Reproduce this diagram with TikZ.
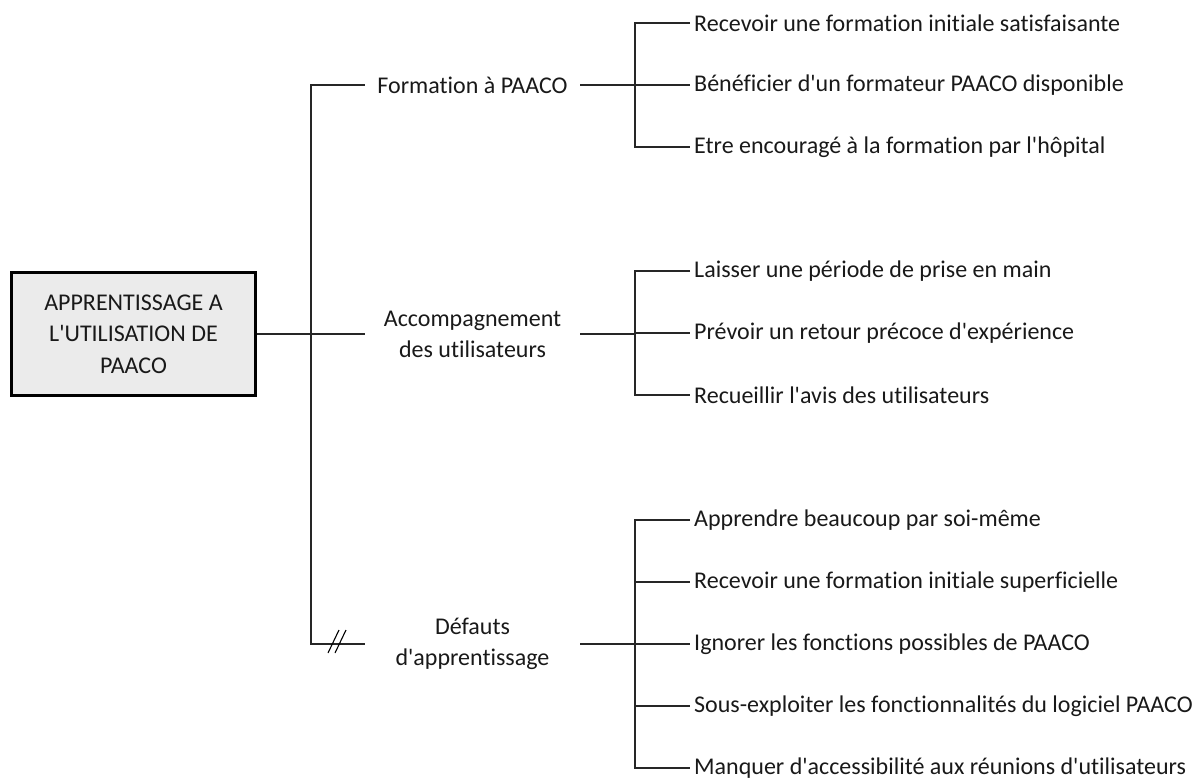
\documentclass[tikz,border=0pt]{standalone}
\usepackage{fontspec}
\setmainfont{Carlito}[Ligatures={TeXOff,CommonOff}]
\begin{document}
\begin{tikzpicture}[x=1pt,y=-1pt,
  conn/.style={line width=1.6pt,draw=black!85},
  rootbox/.style={draw=black,line width=3.5pt,fill=black!8,minimum width=244pt,minimum height=123pt,align=center,font=\fontsize{24}{31.5}\selectfont,text=black!90},
  midnode/.style={minimum width=215pt,inner sep=0pt,align=center,font=\fontsize{24}{31}\selectfont,text=black!90},
  leafnode/.style={anchor=west,inner sep=4pt,font=\fontsize{24}{28}\selectfont,text=black!90}]
\useasboundingbox (0,0) rectangle (1201,781);
\node[rootbox] (root) at (133.5,334) {APPRENTISSAGE A\\L'UTILISATION DE\\PAACO};
\coordinate (tA) at (311,85);
\coordinate (tC) at (311,644);
\coordinate (tB) at (311,334);
\node[midnode] (m1) at (472.5,85) {Formation à PAACO};
\node[midnode] (m2) at (472.5,334) {Accompagnement\\des utilisateurs};
\node[midnode] (m3) at (472.5,644) {Défauts\\d'apprentissage};
\coordinate (v1t) at (635,23);
\coordinate (v1b) at (635,147);
\coordinate (v2t) at (635,271);
\coordinate (v2b) at (635,395);
\coordinate (v3t) at (635,520);
\coordinate (v3b) at (635,768);
\node[leafnode] (l1) at (690,23) {Recevoir une formation initiale satisfaisante};
\node[leafnode] (l2) at (690,85) {Bénéficier d'un formateur PAACO disponible};
\node[leafnode] (l3) at (690,147) {Etre encouragé à la formation par l'hôpital};
\node[leafnode] (l4) at (690,271) {Laisser une période de prise en main};
\node[leafnode] (l5) at (690,333) {Prévoir un retour précoce d'expérience};
\node[leafnode] (l6) at (690,395) {Recueillir l'avis des utilisateurs};
\node[leafnode] (l7) at (690,520) {Apprendre beaucoup par soi-même};
\node[leafnode] (l8) at (690,582) {Recevoir une formation initiale superficielle};
\node[leafnode] (l9) at (690,644) {Ignorer les fonctions possibles de PAACO};
\node[leafnode] (l10) at (690,706) {Sous-exploiter les fonctionnalités du logiciel PAACO};
\node[leafnode] (l11) at (690,768) {Manquer d'accessibilité aux réunions d'utilisateurs};
% main trunk
\draw[conn] (m1.west) -- (tA) -- (tC) -- (m3.west);
\draw[conn] (root.east) -- (m2.west);
% double slash
\coordinate (s1a) at (328,653); \coordinate (s1b) at (339,630);
\coordinate (s2a) at (335,653); \coordinate (s2b) at (346,630);
\draw[line width=1.1pt] (s1a) -- (s1b);
\draw[line width=1.1pt] (s2a) -- (s2b);
% group 1
\draw[conn] (m1.east) -- (v1t |- m1.east);
\draw[conn] (l1.west) -- (v1t) -- (v1b) -- (l3.west);
\draw[conn] (v1t |- l2.west) -- (l2.west);
% group 2
\draw[conn] (m2.east) -- (v2t |- m2.east);
\draw[conn] (l4.west) -- (v2t) -- (v2b) -- (l6.west);
\draw[conn] (v2t |- l5.west) -- (l5.west);
% group 3
\draw[conn] (m3.east) -- (v3t |- m3.east);
\draw[conn] (l7.west) -- (v3t) -- (v3b) -- (l11.west);
\draw[conn] (v3t |- l8.west) -- (l8.west);
\draw[conn] (v3t |- l9.west) -- (l9.west);
\draw[conn] (v3t |- l10.west) -- (l10.west);
\end{tikzpicture}
\end{document}
